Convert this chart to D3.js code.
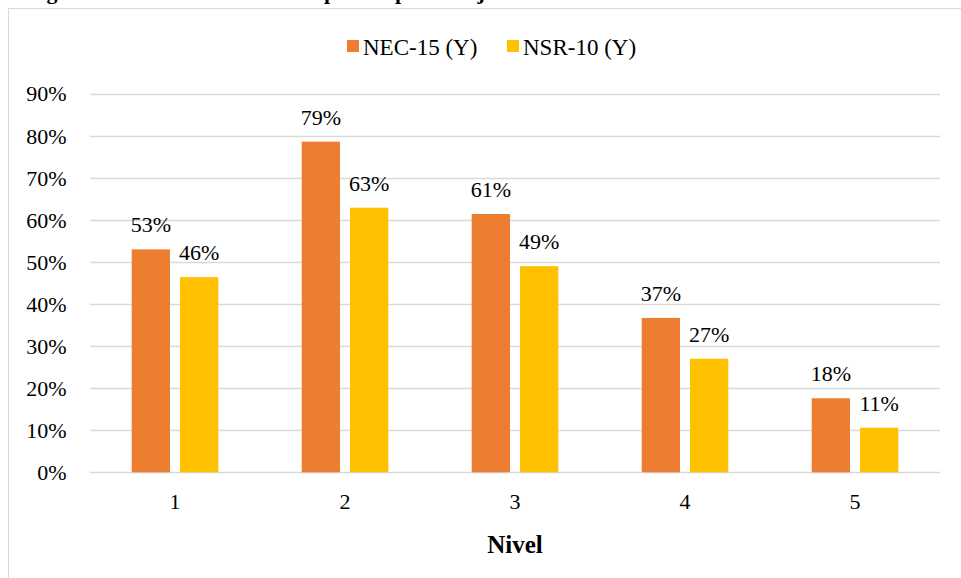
<!DOCTYPE html>
<html>
<head>
<meta charset="utf-8">
<script src="https://cdn.jsdelivr.net/npm/d3@7"></script>
<style>
  html, body { margin: 0; padding: 0; background: #fff; overflow: hidden; }
</style>
</head>
<body>
<svg id="chart" width="961" height="578" font-family="Liberation Serif"></svg>
<script>
// Storey drift ratio per level, for each design code
const levels = ["1", "2", "3", "4", "5"];
const seriesNames = ["NEC-15 (Y)", "NSR-10 (Y)"];
const nec15 = [0.530, 0.786, 0.614, 0.367, 0.176];
const nsr10 = [0.464, 0.629, 0.490, 0.270, 0.106];
const yTicks = [0, 0.1, 0.2, 0.3, 0.4, 0.5, 0.6, 0.7, 0.8, 0.9];
const colors = ["#ED7D31", "#FFC000"];
const titleText = "Figura 56. Derivas máximas de piso en porcentaje en los sistemas de estudio";

const FONT = "Liberation Serif";
const svg = d3.select("#chart");
const plot = { left: 90, right: 940, top: 93.7, bottom: 472.3 };

// outer chart frame
svg.append("rect")
  .attr("x", 8.5).attr("y", 8.5)
  .attr("width", 1000).attr("height", 700)
  .attr("fill", "#fff").attr("stroke", "#D9D9D9").attr("stroke-width", 1);

// caption running above the frame
svg.append("text")
  .attr("x", 27).attr("y", -1.5)
  .attr("font-family", FONT)
  .attr("font-size", 22).attr("font-weight", "bold")
  .attr("fill", "#000")
  .text(titleText);

const x = d3.scaleBand().domain(levels).range([plot.left, plot.right]).paddingInner(0).paddingOuter(0);
const y = d3.scaleLinear().domain([0, 0.9]).range([plot.bottom, plot.top]);
const inner = d3.scaleBand().domain(seriesNames).range([x.bandwidth() / 2 - 43.3, x.bandwidth() / 2 + 43.3]).paddingInner(0.207).paddingOuter(0);

// gridlines
svg.append("g").selectAll("line")
  .data(yTicks).join("line")
  .attr("x1", plot.left).attr("x2", plot.right)
  .attr("y1", d => Math.round(y(d)) + 0.5).attr("y2", d => Math.round(y(d)) + 0.5)
  .attr("stroke", "#D9D9D9").attr("stroke-width", 1.3);

// y axis labels
const yAxis = d3.axisLeft(y).tickValues(yTicks).tickFormat(d3.format(".0%")).tickSize(0).tickPadding(0);
svg.append("g")
  .attr("transform", `translate(${66.5},0)`)
  .call(yAxis)
  .attr("font-family", FONT)
  .call(g => g.select(".domain").remove())
  .call(g => g.selectAll("text")
    .attr("font-family", FONT)
    .attr("font-size", 22).attr("fill", "#000").attr("dy", "0.33em"));

// x axis labels
const xAxis = d3.axisBottom(x).tickSize(0).tickPadding(0);
svg.append("g")
  .attr("transform", `translate(0,${plot.bottom})`)
  .call(xAxis)
  .attr("font-family", FONT)
  .call(g => g.select(".domain").remove())
  .call(g => g.selectAll("text")
    .attr("font-family", FONT)
    .attr("font-size", 22).attr("fill", "#000").attr("dy", 0).attr("y", 37));

// bars
const rows = levels.map((lv, i) => ({ level: lv, values: [nec15[i], nsr10[i]] }));
const fmt = d3.format(".0%");
const groups = svg.append("g").selectAll("g")
  .data(rows).join("g")
  .attr("transform", d => `translate(${x(d.level)},0)`);

groups.selectAll("rect")
  .data(d => d.values.map((v, j) => ({ name: seriesNames[j], v, j })))
  .join("rect")
  .attr("x", d => inner(d.name))
  .attr("width", inner.bandwidth())
  .attr("y", d => y(d.v))
  .attr("height", d => y(0) - y(d.v))
  .attr("fill", d => colors[d.j]);

groups.selectAll("text")
  .data(d => d.values.map((v, j) => ({ name: seriesNames[j], v, j })))
  .join("text")
  .attr("x", d => inner(d.name) + inner.bandwidth() / 2)
  .attr("y", d => y(d.v) - 17)
  .attr("text-anchor", "middle")
  .attr("font-family", FONT)
  .attr("font-size", 22).attr("fill", "#000")
  .text(d => fmt(d.v));

// x axis title
svg.append("text")
  .attr("x", 515).attr("y", 553)
  .attr("text-anchor", "middle")
  .attr("font-family", FONT)
  .attr("font-size", 25).attr("font-weight", "bold").attr("fill", "#000")
  .text("Nivel");

// legend
const legend = svg.append("g");
const legendItems = [{ name: seriesNames[0], x: 347, tx: 363 }, { name: seriesNames[1], x: 507, tx: 523 }];
legendItems.forEach((it, i) => {
  legend.append("rect").attr("x", it.x).attr("y", 40).attr("width", 12).attr("height", 12).attr("fill", colors[i]);
  legend.append("text").attr("x", it.tx).attr("y", 55)
    .attr("font-family", FONT)
    .attr("font-size", 23).attr("fill", "#000").text(it.name);
});
</script>
</body>
</html>
